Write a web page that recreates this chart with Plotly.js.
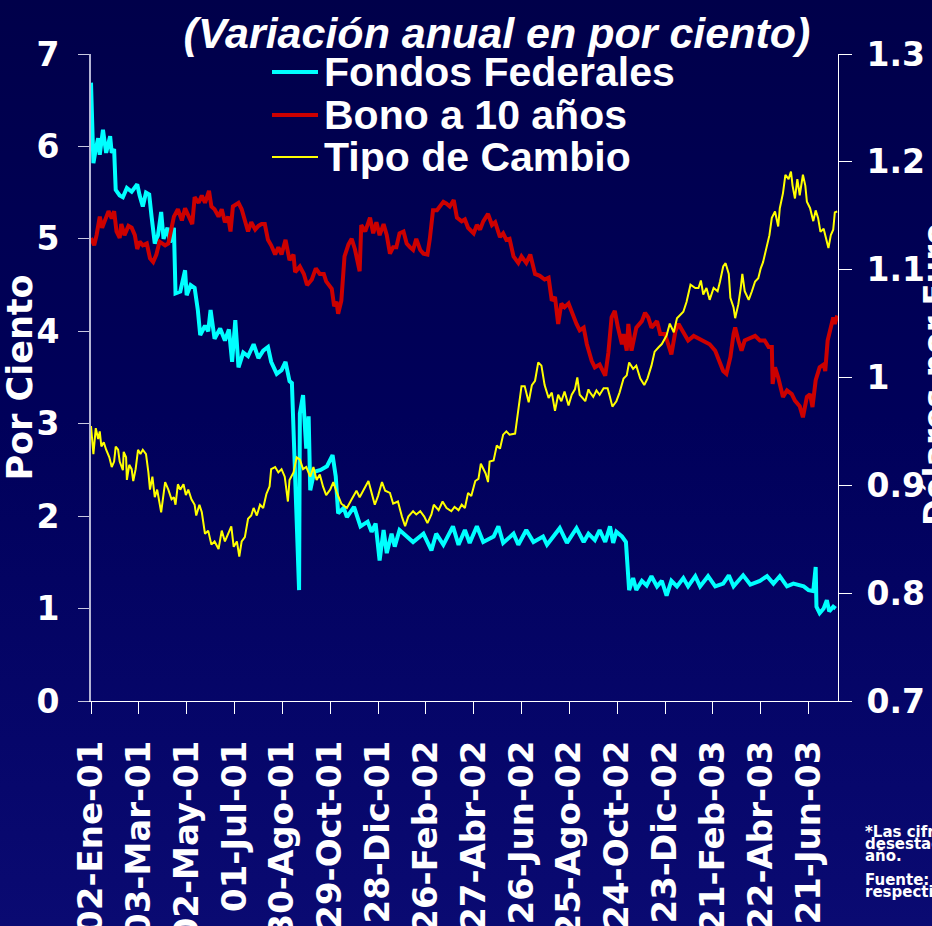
<!DOCTYPE html>
<html>
<head>
<meta charset="utf-8">
<script src="https://cdn.plot.ly/plotly-3.0.1.min.js"></script>
<style>
  html, body { margin:0; padding:0; width:932px; height:926px; overflow:hidden;
    background: linear-gradient(to bottom, #00004a 0%, #00005a 45%, #06066a 80%, #0a0a72 100%); }
  #chart { width:932px; height:926px; }
</style>
</head>
<body>
<div id="chart"></div>
<script>
// ---- Data (x as days since 02-Ene-2001) ----
const ffDays = [0,3,6,9,11,15,19,24,26,29,31,36,40,45,51,58,61,65,69,73,76,80,84,88,91,96,99,104,106,112,118,120,125,130,134,137,143,147,150,155,162,168,173,177,181,185,191,197,204,210,216,222,226,233,239,244,249,252,261,262,266,270,273,275,280,288,296,303,307,310,317,321,330,338,347,352,357,362,367,371,377,381,387,396,404,417,427,433,442,454,461,469,475,484,492,505,511,517,530,536,546,555,567,572,588,597,609,618,624,632,638,645,651,655,659,666,671,675,680,684,691,697,703,710,716,722,728,735,743,749,758,764,774,783,793,800,806,818,827,839,848,856,864,873,881,894,900,906,909,910,914,919,923,926,931,934];
const ffVals = [6.69,5.82,5.97,6.09,5.91,6.18,5.93,6.11,5.93,5.97,5.53,5.47,5.45,5.55,5.51,5.59,5.47,5.35,5.50,5.48,5.24,4.95,5.04,5.29,5.00,5.12,4.96,5.12,4.41,4.43,4.66,4.39,4.50,4.47,4.23,3.96,4.06,4.00,4.23,3.92,4.03,3.90,4.02,3.67,4.12,3.61,3.77,3.73,3.86,3.71,3.79,3.83,3.67,3.54,3.58,3.67,3.46,3.44,1.20,3.11,3.31,2.73,3.08,2.28,2.48,2.50,2.54,2.66,2.43,2.03,2.09,1.99,2.10,1.89,1.94,1.83,1.92,1.52,1.85,1.60,1.81,1.67,1.85,1.78,1.72,1.81,1.63,1.81,1.69,1.89,1.69,1.85,1.71,1.89,1.72,1.78,1.89,1.71,1.81,1.69,1.85,1.72,1.78,1.69,1.87,1.71,1.87,1.72,1.81,1.74,1.85,1.72,1.89,1.71,1.83,1.78,1.72,1.20,1.33,1.20,1.30,1.25,1.35,1.24,1.30,1.14,1.30,1.24,1.33,1.24,1.35,1.24,1.35,1.24,1.27,1.36,1.24,1.36,1.26,1.30,1.35,1.27,1.35,1.24,1.27,1.24,1.20,1.19,1.45,1.02,0.95,1.00,1.09,0.97,1.02,1.00];

const bonoDays = [0,4,7,11,14,19,22,26,29,32,36,38,42,47,51,55,58,61,65,70,74,78,82,86,93,97,101,104,109,114,118,122,127,130,135,139,143,148,151,155,160,164,168,172,175,178,185,189,193,197,201,206,210,214,218,222,226,231,235,239,244,249,254,256,262,267,271,277,282,287,292,295,302,305,308,310,314,318,323,327,331,335,337,339,344,350,354,358,362,367,371,375,379,383,387,392,396,400,404,408,413,417,422,425,429,434,438,442,446,450,455,459,465,469,473,480,484,488,492,498,503,507,513,517,521,525,530,536,540,546,551,557,563,569,574,578,582,586,590,594,599,605,609,613,618,622,628,632,638,645,649,653,657,661,666,668,672,674,678,684,691,695,699,703,710,714,720,724,728,733,737,743,749,756,762,768,776,783,789,793,797,802,806,808,812,816,820,827,833,839,845,850,854,855,858,862,868,873,879,883,889,893,898,902,905,909,914,919,921,924,928,931,933,936];
const bonoVals = [5.01,4.93,5.04,5.24,5.12,5.24,5.30,5.22,5.30,5.08,5.01,5.16,5.04,5.14,5.12,5.04,4.89,4.97,4.93,4.95,4.79,4.75,4.83,4.97,4.93,4.95,5.12,5.24,5.32,5.20,5.33,5.26,5.16,5.45,5.39,5.47,5.39,5.52,5.35,5.32,5.24,5.32,5.18,5.24,5.08,5.35,5.39,5.32,5.18,5.08,5.18,5.10,5.14,5.16,5.16,4.99,4.93,4.83,4.91,4.83,4.99,4.77,4.83,4.64,4.70,4.62,4.50,4.56,4.68,4.62,4.62,4.54,4.46,4.27,4.32,4.19,4.33,4.81,4.94,5.00,4.89,4.74,4.65,5.15,5.08,5.23,5.06,5.18,5.04,5.16,5.04,4.84,4.91,4.91,5.06,5.08,4.95,4.91,4.88,5.00,4.88,4.84,4.83,5.00,5.31,5.31,5.35,5.40,5.38,5.35,5.42,5.23,5.19,5.21,5.12,5.06,5.15,5.10,5.19,5.27,5.15,5.18,5.02,5.06,4.99,5.00,4.81,4.74,4.81,4.74,4.83,4.62,4.60,4.56,4.58,4.33,4.37,4.08,4.30,4.26,4.30,4.15,4.08,4.01,4.04,3.86,3.68,3.61,3.64,3.52,3.77,4.15,4.22,4.04,3.86,3.97,3.79,4.08,3.79,4.04,4.11,4.20,4.15,4.04,4.11,3.97,3.97,3.86,3.75,4.00,4.08,3.99,3.90,3.95,3.92,3.90,3.86,3.79,3.64,3.57,3.54,3.72,3.97,4.04,3.90,3.79,3.90,3.93,3.95,3.90,3.90,3.83,3.83,3.43,3.61,3.50,3.29,3.36,3.32,3.25,3.19,3.07,3.29,3.32,3.18,3.47,3.61,3.64,3.57,3.90,4.04,4.15,4.08,4.17];

const tcDays = [0,3,6,9,11,13,16,19,23,26,29,31,34,36,40,41,44,45,48,51,53,56,59,62,65,69,72,74,77,80,83,86,88,93,97,101,104,106,109,112,116,119,122,126,130,132,136,139,143,147,151,155,160,164,168,172,176,179,183,186,189,193,197,201,204,208,212,216,220,224,226,231,235,239,243,247,249,254,258,262,266,270,275,279,283,287,291,295,300,304,308,314,321,327,333,337,342,348,352,356,360,365,369,375,379,385,390,394,398,404,408,413,418,422,427,430,436,441,446,452,456,461,465,469,473,477,482,486,489,492,495,498,500,505,509,513,517,521,525,532,536,540,544,549,553,557,561,565,569,574,578,582,586,590,594,599,603,607,610,613,620,624,626,630,634,638,643,648,651,654,659,663,668,672,675,680,684,689,694,698,703,707,712,716,722,726,731,735,739,743,747,752,758,762,765,768,772,776,781,786,789,793,796,800,802,806,808,812,815,817,820,825,829,833,837,840,843,848,851,854,858,862,864,868,871,875,878,880,883,886,889,893,896,898,902,906,909,912,915,919,922,925,928,931,933,936];
const tcVals = [0.955,0.929,0.953,0.943,0.950,0.936,0.940,0.933,0.926,0.917,0.922,0.936,0.933,0.922,0.914,0.931,0.926,0.905,0.919,0.915,0.904,0.915,0.933,0.929,0.933,0.929,0.912,0.896,0.908,0.889,0.896,0.885,0.875,0.903,0.896,0.887,0.889,0.882,0.901,0.896,0.901,0.891,0.896,0.887,0.882,0.872,0.882,0.875,0.855,0.858,0.845,0.848,0.841,0.858,0.848,0.855,0.862,0.843,0.848,0.834,0.848,0.852,0.869,0.872,0.879,0.872,0.882,0.879,0.892,0.899,0.915,0.917,0.912,0.915,0.908,0.885,0.905,0.912,0.926,0.924,0.915,0.917,0.908,0.917,0.905,0.910,0.899,0.891,0.896,0.903,0.894,0.883,0.879,0.887,0.895,0.889,0.896,0.904,0.893,0.882,0.890,0.903,0.895,0.893,0.883,0.885,0.871,0.862,0.871,0.876,0.873,0.876,0.871,0.865,0.873,0.882,0.877,0.885,0.879,0.876,0.880,0.877,0.882,0.879,0.893,0.890,0.904,0.906,0.920,0.915,0.911,0.903,0.922,0.923,0.937,0.934,0.947,0.950,0.947,0.948,0.972,0.992,0.992,0.977,0.993,0.997,1.014,1.011,0.993,0.981,0.986,0.969,0.984,0.978,0.987,0.974,0.984,0.989,1.000,0.984,0.978,0.989,0.986,0.982,0.988,0.984,0.990,0.990,0.982,0.973,0.978,0.986,0.999,1.002,1.014,1.008,1.011,0.999,0.993,0.999,1.011,1.024,1.028,1.031,1.039,1.050,1.042,1.055,1.058,1.061,1.070,1.086,1.083,1.083,1.090,1.077,1.083,1.072,1.083,1.080,1.089,1.103,1.106,1.096,1.074,1.065,1.055,1.068,1.083,1.096,1.080,1.072,1.080,1.089,1.092,1.101,1.107,1.123,1.132,1.148,1.154,1.140,1.157,1.171,1.188,1.184,1.191,1.178,1.166,1.184,1.169,1.188,1.178,1.163,1.157,1.145,1.155,1.148,1.135,1.138,1.129,1.120,1.132,1.137,1.153,1.154];

const tickDates = ['2001-01-02','2001-03-03','2001-05-02','2001-07-01','2001-08-30','2001-10-29','2001-12-28','2002-02-26','2002-04-27','2002-06-26','2002-08-25','2002-10-24','2002-12-23','2003-02-21','2003-04-22','2003-06-21'];
const tickLabels = ['02-Ene-01','03-Mar-01','02-May-01','01-Jul-01','30-Ago-01','29-Oct-01','28-Dic-01','26-Feb-02','27-Abr-02','26-Jun-02','25-Ago-02','24-Oct-02','23-Dic-02','21-Feb-03','22-Abr-03','21-Jun-03'];

const seriesNames = ['Fondos Federales','Bono a 10 años','Tipo de Cambio'];
const seriesColors = ['#00ffff','#cc0000','#ffff00'];
const seriesWidths = [4,4,2];

const rightTitle = 'Dólares por Euro';
const footLines = ['*Las cifras son variaciones anuales','desestacionalizadas respecto al mismo mes del','año.','Fuente: Reserva Federal y Banco Central Europeo,','respectivamente.'];

// ---- helpers ----
const START = Date.UTC(2001,0,2);
function toDate(d){ return new Date(START + d*86400000).toISOString().slice(0,10); }

const L=91, R=838, T=54, B=701;
function px(x){ return (x-L)/(R-L); }
function py(y){ return (B-y)/(B-T); }

const ARIAL = 'Liberation Sans, Arial, sans-serif';
const WIDE = 'DejaVu Sans, Verdana, sans-serif';

const traces = [
  {x: ffDays.map(toDate), y: ffVals, name: seriesNames[0], type:'scatter', mode:'lines',
   line:{color:seriesColors[0], width:seriesWidths[0]}, yaxis:'y'},
  {x: bonoDays.map(toDate), y: bonoVals, name: seriesNames[1], type:'scatter', mode:'lines',
   line:{color:seriesColors[1], width:seriesWidths[1]}, yaxis:'y'},
  {x: tcDays.map(toDate), y: tcVals, name: seriesNames[2], type:'scatter', mode:'lines',
   line:{color:seriesColors[2], width:seriesWidths[2]}, yaxis:'y2'}
];

const legendRowY = [72,115,157];
const shapes = [];
const annotations = [];
seriesNames.forEach((n,i)=>{
  shapes.push({type:'line', xref:'paper', yref:'paper', x0:px(272), x1:px(318), y0:py(legendRowY[i]), y1:py(legendRowY[i]),
    line:{color:seriesColors[i], width:seriesWidths[i]}});
  annotations.push({xref:'paper', yref:'paper', x:px(322), y:py(legendRowY[i]), xanchor:'left', yanchor:'middle',
    text:n, showarrow:false, font:{family:ARIAL, size:41, color:'#ffffff', weight:'bold'}});
});
const footY = [832,844,856,880,892];
footLines.forEach((t,i)=>{
  annotations.push({xref:'paper', yref:'paper', x:px(863), y:py(footY[i]), xanchor:'left', yanchor:'middle',
    text:t, showarrow:false, font:{family:WIDE, size:15, color:'#ffffff', weight:'bold'}});
});
// right axis title (mostly beyond the picture's right edge, as in the reference)
annotations.push({xref:'paper', yref:'paper', x:px(935), y:py(375), xanchor:'center', yanchor:'middle', textangle:-90,
  text:rightTitle, showarrow:false, font:{family:WIDE, size:32, color:'#ffffff', weight:'bold'}});

const layout = {
  width:932, height:926,
  margin:{l:L, r:932-R, t:T, b:926-B, pad:0},
  paper_bgcolor:'rgba(0,0,0,0)', plot_bgcolor:'rgba(0,0,0,0)',
  showlegend:false,
  title:{text:'<b><i>(Variación anual en por ciento)</i></b>', x:497/932, xanchor:'center', y:1-33/926, yanchor:'middle',
    font:{family:ARIAL, size:43, color:'#ffffff'}},
  xaxis:{type:'date', range:['2001-01-02','2003-07-28'], tickmode:'array', tickvals:tickDates, ticktext:tickLabels,
    tickangle:-90, ticks:'outside', ticklen:12, tickcolor:'#ffffff', tickwidth:1,
    showline:true, linecolor:'#ffffff', linewidth:1, showgrid:false, zeroline:false,
    tickfont:{family:WIDE, size:34, color:'#ffffff', weight:'bold'}, ticklabelstandoff:13},
  yaxis:{range:[0,7], dtick:1, tick0:0, ticks:'outside', ticklen:11, tickcolor:'#c8c8e0', tickwidth:1,
    showline:true, linecolor:'#b4b4d4', linewidth:2, showgrid:false, zeroline:false,
    tickfont:{family:WIDE, size:33, color:'#ffffff', weight:'bold'}, ticklabelstandoff:12,
    title:{text:'Por Ciento', standoff:16, font:{family:WIDE, size:35, color:'#ffffff', weight:'bold'}}},
  yaxis2:{range:[0.7,1.3], dtick:0.1, tick0:0.7, overlaying:'y', side:'right', ticks:'outside', ticklen:13,
    tickcolor:'#ffffff', tickwidth:1, showline:true, linecolor:'#ffffff', linewidth:1, showgrid:false, zeroline:false,
    tickfont:{family:WIDE, size:33, color:'#ffffff', weight:'bold'}, ticklabelstandoff:8},
  shapes:shapes,
  annotations:annotations
};

Plotly.newPlot('chart', traces, layout, {displayModeBar:false, responsive:false});
</script>
</body>
</html>
